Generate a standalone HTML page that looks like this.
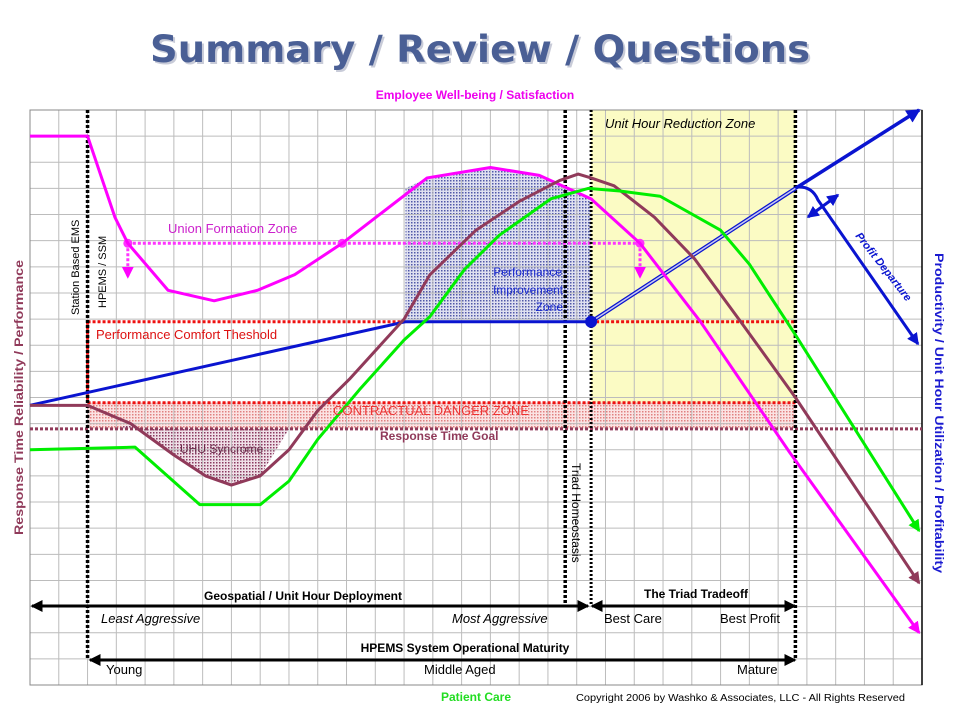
<!DOCTYPE html>
<html><head><meta charset="utf-8"><style>
html,body{margin:0;padding:0;background:#fff;width:960px;height:720px;overflow:hidden}
svg{display:block;font-family:"Liberation Sans","DejaVu Sans",sans-serif}
</style></head><body>
<svg id="chart" width="960" height="720" viewBox="0 0 960 720" xmlns="http://www.w3.org/2000/svg">
<defs>
<pattern id="dotBlue" width="3" height="3" patternUnits="userSpaceOnUse"><rect width="3" height="3" fill="#dfe0f0"/><rect width="1.5" height="1.5" fill="#5058a8"/></pattern>
<pattern id="dotRed" width="3" height="3" patternUnits="userSpaceOnUse"><rect width="3" height="3" fill="#fbe3e3"/><rect width="1.5" height="1.5" fill="#e08080"/></pattern>
<pattern id="dotMaroon" width="3" height="3" patternUnits="userSpaceOnUse"><rect width="3" height="3" fill="#f0e0e8"/><rect width="1.5" height="1.5" fill="#8a3a60"/></pattern>
<marker id="ahBlk" markerWidth="4" markerHeight="4" refX="3.5" refY="2" orient="auto-start-reverse" markerUnits="strokeWidth"><path d="M0,0 L4,2 L0,4 Z" fill="#000"/></marker>
<marker id="ahBlue" markerWidth="4" markerHeight="4" refX="3.5" refY="2" orient="auto-start-reverse" markerUnits="strokeWidth"><path d="M0,0 L4,2 L0,4 Z" fill="#0a14d0"/></marker>
<marker id="ahMag" markerWidth="4" markerHeight="4" refX="3.5" refY="2" orient="auto" markerUnits="strokeWidth"><path d="M0,0 L4,2 L0,4 Z" fill="#ff00ff"/></marker>
<marker id="ahGrn" markerWidth="4" markerHeight="4" refX="3.5" refY="2" orient="auto" markerUnits="strokeWidth"><path d="M0,0 L4,2 L0,4 Z" fill="#00ee00"/></marker>
<marker id="ahMar" markerWidth="4" markerHeight="4" refX="3.5" refY="2" orient="auto" markerUnits="strokeWidth"><path d="M0,0 L4,2 L0,4 Z" fill="#903a5a"/></marker>
</defs>
<text x="482" y="64" text-anchor="middle" font-family="DejaVu Sans,sans-serif" font-weight="bold" font-size="37" fill="#c8cbd8" textLength="660" lengthAdjust="spacingAndGlyphs">Summary / Review / Questions</text>
<text x="480" y="62" text-anchor="middle" font-family="DejaVu Sans,sans-serif" font-weight="bold" font-size="37" fill="#4a5f95" textLength="660" lengthAdjust="spacingAndGlyphs">Summary / Review / Questions</text>
<text x="475" y="99" text-anchor="middle" font-weight="bold" font-size="12" fill="#ee00ee">Employee Well-being / Satisfaction</text>
<g id="zones"></g>
<g id="grid"></g>
<g id="series"></g>
<g id="annot"></g>
</svg>
<script>
// Data coordinates: x = column units (0..31), y = value units (0 bottom .. 22 top)
const xCols = 31, yRows = 22;
const wellBeingX = [0, 2, 2.95, 3.4, 4.8, 6.4, 7.9, 9.2, 10.85, 13.8, 16.0, 17.7, 19.5, 21.2, 23.3, 26.4, 30.9];
const wellBeingY = [21.0, 21.0, 17.9, 16.9, 15.1, 14.7, 15.1, 15.7, 16.9, 19.4, 19.8, 19.5, 18.6, 16.9, 13.9, 8.9, 2.0];
const reliabilityX = [0, 2, 3.5, 5.0, 6.1, 7.0, 8.0, 9.0, 10.0, 11.1, 13.0, 13.9, 15.5, 17.0, 18.4, 19.05, 19.5, 20.3, 21.7, 23.1, 24.7, 26.6, 30.9];
const reliabilityY = [10.7, 10.7, 10.0, 8.8, 8.0, 7.65, 8.0, 9.0, 10.5, 11.7, 14.0, 15.7, 17.4, 18.5, 19.3, 19.55, 19.4, 19.1, 17.9, 16.3, 13.9, 11.0, 3.9];
const patientX = [0, 3.65, 5.9, 8.0, 9.0, 10.0, 11.45, 13.0, 13.9, 15.1, 16.3, 18.1, 19.4, 20.5, 21.9, 24.0, 25.0, 26.6, 30.9];
const patientY = [9.0, 9.1, 6.9, 6.9, 7.8, 9.4, 11.3, 13.2, 14.1, 15.9, 17.2, 18.6, 19.0, 18.9, 18.7, 17.4, 16.1, 13.4, 5.9];
const unionLevel = 16.9, comfortLevel = 13.9, dangerLevel = 10.8, goalLevel = 9.8;

const X0 = 30, X1 = 922, Y0 = 685, Y1 = 110;
const sx = v => X0 + v * (X1 - X0) / xCols;
const sy = v => Y0 - v * (Y0 - Y1) / yRows;
const NS = 'http://www.w3.org/2000/svg';
function mk(parent, tag, attrs) {
  const e = document.createElementNS(NS, tag);
  for (const k in attrs) e.setAttribute(k, attrs[k]);
  document.getElementById(parent).appendChild(e);
  return e;
}
function pts(xs, ys) { return xs.map((x, i) => sx(x) + ',' + sy(ys[i])).join(' '); }

let z;
z = mk('zones', 'rect', {x: sx(19.5), y: Y1, width: sx(26.6) - sx(19.5), height: sy(dangerLevel) - Y1, fill: '#fbfbc4'});


z = mk('zones', 'rect', {x: sx(2), y: sy(dangerLevel), width: sx(26.6) - sx(2), height: sy(goalLevel) - sy(dangerLevel), fill: 'url(#dotRed)'});


(function(){
  const xs = [13.05], ys = [comfortLevel];
  xs.push(13.05); ys.push(19.0);
  for (let i = 0; i < wellBeingX.length; i++) if (wellBeingX[i] > 13.05 && wellBeingX[i] < 19.5) { xs.push(wellBeingX[i]); ys.push(wellBeingY[i]); }
  xs.push(19.5); ys.push(18.6); xs.push(19.5); ys.push(comfortLevel);
  const p = mk('zones', 'polygon', {points: pts(xs, ys), fill: 'url(#dotBlue)'});
  
  
})();
(function(){
  const xs = [3.0], ys = [goalLevel];
  for (let i = 0; i < reliabilityX.length; i++) if (reliabilityX[i] > 3.0 && reliabilityX[i] < 9.0) { xs.push(reliabilityX[i]); ys.push(reliabilityY[i]); }
  xs.push(9.0);ys.push(goalLevel);
  const p = mk('zones', 'polygon', {points: pts(xs, ys), fill: 'url(#dotMaroon)'});
  
  
})();

for (let i = 0; i <= xCols; i++) {
  const l = mk('grid', 'line', {x1: sx(i), x2: sx(i), y1: Y1, y2: Y0, stroke: '#bcbcbc', 'stroke-width': 1});
  
  
}
for (let j = 0; j <= yRows; j++) {
  const l = mk('grid', 'line', {x1: X0, x2: X1, y1: sy(j), y2: sy(j), stroke: '#bcbcbc', 'stroke-width': 1});
  
  
}
let b = mk('grid', 'rect', {x: X0, y: Y1, width: X1 - X0, height: Y0 - Y1, fill: 'none', stroke: '#888', 'stroke-width': 1});


b = mk('grid', 'line', {x1: X1, x2: X1, y1: Y1, y2: Y0, stroke: '#000', 'stroke-width': 1.5});



let t;
t = mk('series', 'line', {x1: X0, x2: X1, y1: sy(goalLevel), y2: sy(goalLevel), stroke: '#903a5a', 'stroke-width': 3, 'stroke-dasharray': '3,2'});


t = mk('series', 'line', {x1: sx(2), x2: sx(26.6), y1: sy(dangerLevel), y2: sy(dangerLevel), stroke: '#ee1111', 'stroke-width': 3, 'stroke-dasharray': '3,2'});


t = mk('series', 'line', {x1: sx(2), x2: sx(13.05), y1: sy(comfortLevel), y2: sy(comfortLevel), stroke: '#ee1111', 'stroke-width': 3, 'stroke-dasharray': '3,2'});


t = mk('series', 'line', {x1: sx(19.5), x2: sx(26.6), y1: sy(comfortLevel), y2: sy(comfortLevel), stroke: '#ee1111', 'stroke-width': 3, 'stroke-dasharray': '3,2'});


t = mk('series', 'line', {x1: sx(2), x2: sx(2), y1: sy(comfortLevel), y2: sy(dangerLevel), stroke: '#ee1111', 'stroke-width': 3, 'stroke-dasharray': '3,2'});


t = mk('series', 'line', {x1: sx(3.4), x2: sx(21.2), y1: sy(unionLevel), y2: sy(unionLevel), stroke: '#ff33ff', 'stroke-width': 3, 'stroke-dasharray': '3,2'});


[3.4, 21.2].forEach(x => {
  const a = mk('series', 'line', {x1: sx(x), x2: sx(x), y1: sy(unionLevel), y2: sy(unionLevel) + 34, stroke: '#ff33ff', 'stroke-width': 3, 'stroke-dasharray': '3,2', 'marker-end': 'url(#ahMag)'});
  
  
});
[3.4, 10.85, 21.2].forEach(x => {
  const c = mk('series', 'circle', {cx: sx(x), cy: sy(unionLevel), r: 4.5, fill: '#ff33ff'});
  
  
});

[[2, 1], [18.6, 3], [19.5, 3], [26.6, 1]].forEach(([x, bottomRow]) => {
  const yb = bottomRow === 1 ? 660 : 606;
  const l = mk('series', 'line', {x1: sx(x), x2: sx(x), y1: Y1, y2: yb, stroke: '#000', 'stroke-width': x === 19.5 ? 3 : 3.5, 'stroke-dasharray': x === 19.5 ? '2,2' : '3,2'});
  
  
});

t = mk('series', 'polyline', {points: pts([0, 13.05, 19.5], [10.7, comfortLevel, comfortLevel]), fill: 'none', stroke: '#0a14d0', 'stroke-width': 3});


t = mk('series', 'line', {x1: sx(19.5), y1: sy(comfortLevel), x2: sx(26.6), y2: sy(19.0), stroke: '#0a14d0', 'stroke-width': 4});


t = mk('series', 'line', {x1: sx(19.5), y1: sy(comfortLevel), x2: sx(26.6), y2: sy(19.0), stroke: '#c8c8f0', 'stroke-width': 1.5});


t = mk('series', 'line', {x1: sx(26.6), y1: sy(19.0), x2: sx(30.9), y2: sy(22.0), stroke: '#0a14d0', 'stroke-width': 3.5, 'marker-end': 'url(#ahBlue)'});


t = mk('series', 'circle', {cx: sx(19.5), cy: sy(comfortLevel), r: 6, fill: '#0a14d0'});



[[wellBeingX, wellBeingY, '#ff00ff', 'well-being-line', 'ahMag'],
 [reliabilityX, reliabilityY, '#903a5a', 'response-reliability-line', 'ahMar'],
 [patientX, patientY, '#00ee00', 'patient-care-line', 'ahGrn']].forEach(([xs, ys, c, n, m]) => {
  const p = mk('series', 'polyline', {points: pts(xs, ys), fill: 'none', stroke: c, 'stroke-width': 3, 'stroke-linejoin': 'round', 'marker-end': 'url(#' + m + ')'});
  
  
});

t = mk('annot', 'path', {d: 'M797,187 Q812,186 818,200 L918,344', fill: 'none', stroke: '#0a14d0', 'stroke-width': 3, 'marker-end': 'url(#ahBlue)'});


t = mk('annot', 'line', {x1: 808, y1: 217, x2: 838, y2: 195, stroke: '#0a14d0', 'stroke-width': 3, 'marker-start': 'url(#ahBlue)', 'marker-end': 'url(#ahBlue)'});



[[30, 590, 606, 'deployment-arrow'], [590, 797, 606, 'triad-tradeoff-arrow'], [88, 797, 660, 'maturity-arrow']].forEach(([a, bb, y, n]) => {
  const l = mk('annot', 'line', {x1: a + 2, x2: bb - 2, y1: y, y2: y, stroke: '#000', 'stroke-width': 3, 'marker-start': 'url(#ahBlk)', 'marker-end': 'url(#ahBlk)'});
  
  
});
</script>
<svg style="position:absolute;left:0;top:0" width="960" height="720">
<g font-family="Liberation Sans, sans-serif">
<text transform="translate(79,315) rotate(-90)" font-size="11">Station Based EMS</text>
<text transform="translate(106,308) rotate(-90)" font-size="11">HPEMS / SSM</text>
<text x="168" y="233" font-size="13" fill="#cc22cc">Union Formation Zone</text>
<text x="96" y="339" font-size="13" fill="#dd1111">Performance Comfort Theshold</text>
<text x="333" y="415" font-size="13" fill="#ee3333">CONTRACTUAL DANGER ZONE</text>
<text x="380" y="440" font-size="12" font-weight="bold" fill="#903a5a">Response Time Goal</text>
<text x="180" y="453" font-size="12" fill="#6a2a4a">UHU Syncrome</text>
<text font-size="12" fill="#1a2ad0" text-anchor="end"><tspan x="562" y="276">Performance</tspan><tspan x="563" y="294">Improvement</tspan><tspan x="563" y="311">Zone</tspan></text>
<text x="605" y="128" font-size="13" font-style="italic">Unit Hour Reduction Zone</text>
<text transform="translate(572,463) rotate(90)" font-size="12">Triad Homeostasis</text>
<text transform="translate(855,236) rotate(52)" font-size="11" font-weight="bold" font-style="italic" fill="#0a14d0">Profit Departure</text>
<text x="303" y="600" text-anchor="middle" font-size="12" font-weight="bold">Geospatial / Unit Hour Deployment</text>
<text x="696" y="598" text-anchor="middle" font-size="12" font-weight="bold">The Triad Tradeoff</text>
<text x="101" y="623" font-size="13" font-style="italic">Least Aggressive</text>
<text x="452" y="623" font-size="13" font-style="italic">Most Aggressive</text>
<text x="604" y="623" font-size="13">Best Care</text>
<text x="720" y="623" font-size="13">Best Profit</text>
<text x="465" y="652" text-anchor="middle" font-size="12" font-weight="bold">HPEMS System Operational Maturity</text>
<text x="106" y="674" font-size="13">Young</text>
<text x="424" y="674" font-size="13">Middle Aged</text>
<text x="737" y="674" font-size="13">Mature</text>
<text x="476" y="701" text-anchor="middle" font-size="12" font-weight="bold" fill="#22dd22">Patient Care</text>
<text x="576" y="701" font-size="10" textLength="329" lengthAdjust="spacingAndGlyphs">Copyright 2006 by Washko &amp; Associates, LLC - All Rights Reserved</text>
<text transform="translate(23,535) rotate(-90)" font-size="12" font-weight="bold" fill="#903a5a" textLength="275" lengthAdjust="spacingAndGlyphs">Response Time Reliability / Performance</text>
<text transform="translate(935,253) rotate(90)" font-size="12" font-weight="bold" fill="#1a1ad0" textLength="320" lengthAdjust="spacingAndGlyphs">Productivity / Unit Hour Utilization / Profitability</text>
</g>
</svg>
</body></html>
